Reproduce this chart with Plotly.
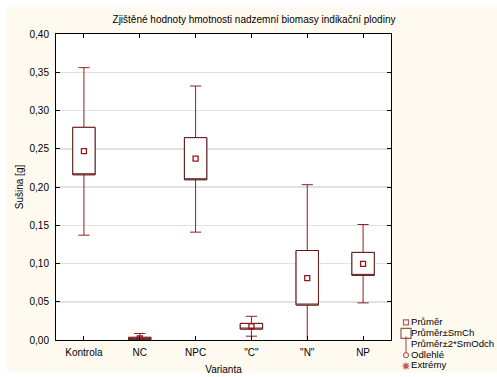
import plotly.graph_objects as go

# ---- data ----
categories = ["Kontrola", "NC", "NPC", "\"C\"", "\"N\"", "NP"]
mean_vals = [0.247, 0.002, 0.237, 0.018, 0.081, 0.0995]
se_low = [0.216, 0.0005, 0.2095, 0.0143, 0.0457, 0.0845]
se_high = [0.278, 0.0035, 0.2645, 0.0217, 0.117, 0.1145]
sd2_low = [0.137, -0.0045, 0.141, 0.005, -0.041, 0.0485]
sd2_high = [0.356, 0.0085, 0.332, 0.031, 0.203, 0.151]
y_ticks = [0.0, 0.05, 0.10, 0.15, 0.20, 0.25, 0.30, 0.35, 0.40]

legend_labels = ["Průměr", "Průměr±SmCh", "Průměr±2*SmOdch", "Odlehlé", "Extrémy"]
legend_symbols = ["square-open", "square-open", "line-ns-open", "circle-open", "asterisk-open"]
legend_sizes = [5, 10, 11, 5, 6]
legend_colors = ["#A01414", "#5C1A1A", "#8E2222", "#A01414", "#A01414"]

WHISK = "#8E2222"
BOXC = "#5C1A1A"
MEANC = "#A01414"
FONT = "Liberation Sans, Arial, sans-serif"

fig = go.Figure()

# whiskers (mean ± 2*SD) drawn with a box trace
fig.add_trace(go.Box(
    x=categories, q1=se_low, median=se_low, q3=se_high,
    lowerfence=sd2_low, upperfence=sd2_high,
    width=0.4, whiskerwidth=0.5, fillcolor="white",
    line=dict(color=WHISK, width=1), showlegend=False, hoverinfo="skip",
    xaxis="x", yaxis="y"))
# boxes (mean ± SE) with darker outline
fig.add_trace(go.Box(
    x=categories, q1=se_low, median=se_low, q3=se_high,
    lowerfence=se_low, upperfence=se_high,
    width=0.4, whiskerwidth=0, fillcolor="white",
    line=dict(color=BOXC, width=1), showlegend=False, hoverinfo="skip",
    xaxis="x", yaxis="y"))
# means
fig.add_trace(go.Scatter(
    x=categories, y=mean_vals, mode="markers",
    marker=dict(symbol="square-open", size=5, color=MEANC, line=dict(width=1.3, color=MEANC)),
    showlegend=False, hoverinfo="skip", xaxis="x", yaxis="y"))

# custom compact legend on its own hidden axes
rows = list(range(1, len(legend_labels) + 1))
fig.add_trace(go.Scatter(
    x=[8] * len(rows), y=rows, mode="markers",
    marker=dict(symbol=legend_symbols, size=legend_sizes, color=legend_colors,
                line=dict(width=1.2, color=legend_colors)),
    showlegend=False, hoverinfo="skip", cliponaxis=False,
    xaxis="x2", yaxis="y2"))
fig.add_trace(go.Scatter(
    x=[13] * len(rows), y=rows, mode="text",
    text=legend_labels, textposition="middle right",
    textfont=dict(family=FONT, size=9.6, color="black"),
    showlegend=False, hoverinfo="skip", cliponaxis=False,
    xaxis="x2", yaxis="y2"))

W, H = 497, 377
L, R, T, B = 56, 0, 34, 5
PW, PH = W - L - R, H - T - B

def px_x(px):
    return (px - L) / PW

def px_y(py):
    return (H - B - py) / PH

main_x_dom = [0, px_x(391)]
main_y_dom = [px_y(340), 1]

fig.update_layout(
    width=W, height=H,
    margin=dict(l=L, r=R, t=T, b=B, pad=0),
    paper_bgcolor="#FFFAF0",
    plot_bgcolor="rgba(0,0,0,0)",
    separators=", ",
    font=dict(family=FONT, size=10, color="black"),
    boxmode="overlay",
    showlegend=False,
    title=dict(text="Zjištěné hodnoty hmotnosti nadzemní biomasy indikační plodiny",
               x=254 / W, xref="container", xanchor="center",
               y=1 - 19 / H, yref="container", yanchor="middle",
               font=dict(family=FONT, size=10, color="black")),
    xaxis=dict(domain=main_x_dom, type="category", categoryorder="array",
               categoryarray=categories, range=[-0.5, 5.5],
               showline=True, linecolor="black", linewidth=1, mirror="ticks",
               ticks="inside", ticklen=4, tickcolor="black", tickwidth=1,
               showgrid=False, zeroline=False, ticklabelstandoff=3,
               tickfont=dict(family=FONT, size=10, color="black"),
               title=dict(text="Varianta", standoff=8,
                          font=dict(family=FONT, size=10, color="black"))),
    yaxis=dict(domain=main_y_dom, range=[0, 0.4], tickvals=y_ticks, tickformat=".2f",
               showline=True, linecolor="black", linewidth=1, mirror="ticks",
               ticks="inside", ticklen=4, tickcolor="black", tickwidth=1,
               showgrid=True, gridcolor="#E2E2E2", gridwidth=1.5, zeroline=False,
               ticklabelstandoff=4,
               tickfont=dict(family=FONT, size=10, color="black"),
               title=dict(text="Sušina [g]", standoff=4,
                          font=dict(family=FONT, size=10, color="black"))),
    xaxis2=dict(domain=[px_x(398), 1], range=[0, 99], visible=False,
                anchor="y2", fixedrange=True),
    yaxis2=dict(domain=[px_y(371.5), px_y(317)], range=[5.5, 0.5], visible=False,
                anchor="x2", fixedrange=True),
    shapes=[
        # white plot area
        dict(type="rect", xref="x domain", yref="y domain", x0=0, x1=1, y0=0, y1=1,
             fillcolor="white", line=dict(width=0), layer="below"),
        # thin white border around the cream panel
        dict(type="rect", xref="paper", yref="paper", x0=-0.3, x1=1.3,
             y0=px_y(7), y1=1.3, fillcolor="white", line=dict(width=0), layer="below"),
        dict(type="rect", xref="paper", yref="paper", x0=-0.3, x1=px_x(7),
             y0=-0.3, y1=1.3, fillcolor="white", line=dict(width=0), layer="below"),
        dict(type="rect", xref="paper", yref="paper", x0=-0.3, x1=1.3,
             y0=-0.3, y1=0, fillcolor="white", line=dict(width=0), layer="below"),
    ],
)

fig.write_html("out.html",
               config={"displayModeBar": False, "staticPlot": True},
               post_script="document.body.style.margin='0';document.body.style.padding='0';")
